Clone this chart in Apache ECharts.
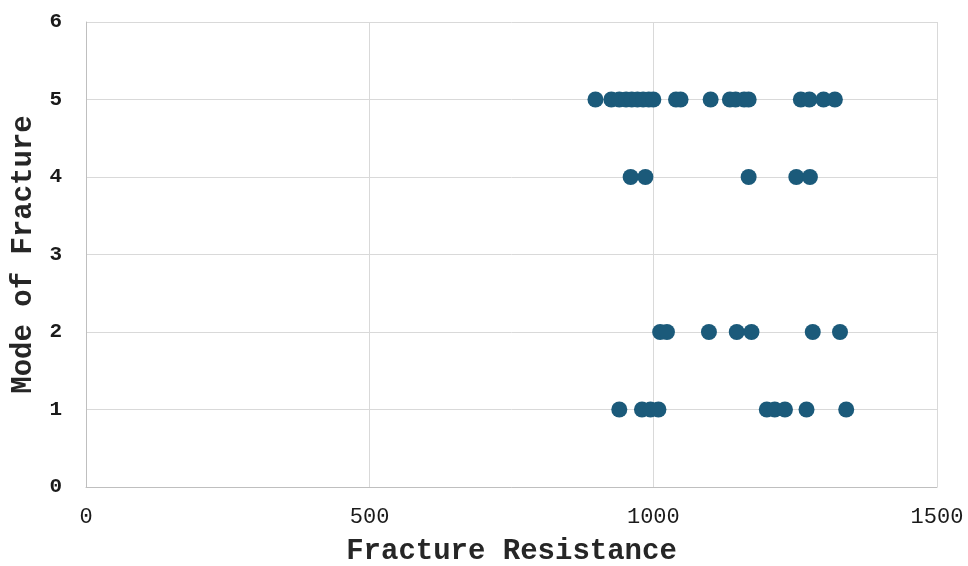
<!DOCTYPE html>
<html><head><meta charset="utf-8">
<script src="https://cdn.jsdelivr.net/npm/echarts@6/dist/echarts.min.js"></script>
<style>html,body{margin:0;padding:0;background:#fff}#c{width:968px;height:566px}</style>
</head><body><div id="c"></div>
<script>
const mode5 = [898, 926, 940, 952, 962, 972, 982, 992, 1000, 1040, 1048, 1101, 1135, 1145, 1160, 1168, 1260, 1275, 1300, 1320];
const mode4 = [960, 986, 1168, 1252, 1276];
const mode2 = [1012, 1024, 1098, 1147, 1173, 1281, 1329];
const mode1 = [940, 980, 995, 1009, 1200, 1214, 1232, 1270, 1340];
const modes = [[5, mode5], [4, mode4], [2, mode2], [1, mode1]];
const xTicks = [0, 500, 1000, 1500];
const yTicks = [0, 1, 2, 3, 4, 5, 6];

const data = [];
modes.forEach(([m, arr]) => arr.forEach(v => data.push([v, m])));

const font = 'Liberation Mono, Courier New, monospace';
const chart = echarts.init(document.getElementById('c'));
chart.setOption({
  animation: false,
  grid: {left: 86, right: 31, top: 22, bottom: 79, outerBoundsMode: 'none', containLabel: false},
  xAxis: {
    type: 'value', min: xTicks[0], max: xTicks[xTicks.length - 1], interval: 500,
    name: 'Fracture Resistance', nameLocation: 'middle', nameGap: 50,
    nameTextStyle: {fontFamily: font, fontWeight: 'bold', fontSize: 29, color: '#262626'},
    axisLine: {show: true, lineStyle: {color: '#bfbfbf'}},
    axisTick: {show: false},
    axisLabel: {fontFamily: font, fontSize: 22, color: '#1a1a1a', margin: 19,
      formatter: v => String(v)},
    splitLine: {show: true, lineStyle: {color: '#d9d9d9'}}
  },
  yAxis: {
    type: 'value', min: yTicks[0], max: yTicks[yTicks.length - 1], interval: 1,
    name: 'Mode of Fracture', nameLocation: 'middle', nameGap: 47, nameRotate: 90,
    nameTextStyle: {fontFamily: font, fontWeight: 'bold', fontSize: 29, color: '#262626'},
    axisLine: {show: true, lineStyle: {color: '#bfbfbf'}},
    axisTick: {show: false},
    axisLabel: {fontFamily: font, fontWeight: 'bold', fontSize: 21, color: '#1a1a1a', margin: 24},
    splitLine: {show: true, lineStyle: {color: '#d9d9d9'}}
  },
  series: [{
    type: 'scatter', data: data, symbolSize: 16,
    itemStyle: {color: '#1b5a7a', opacity: 1}
  }]
});
</script></body></html>
